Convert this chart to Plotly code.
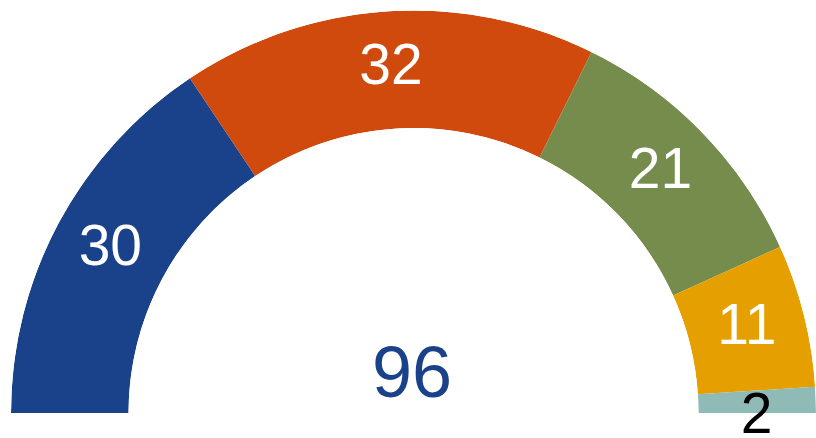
import plotly.graph_objects as go

parties = ["A", "B", "C", "D", "E"]
seats = [30, 32, 21, 11, 2]
colors = ["#1a428a", "#d04a0e", "#758c4c", "#e5a000", "#8fbab6"]
label_colors = ["white", "white", "white", "white", "black"]
total = sum(seats)

deg_per_seat = 180.0 / total
widths = [s * deg_per_seat for s in seats]
starts, centers = [], []
acc = 0.0
for w in widths:
    starts.append(acc)
    centers.append(acc + w / 2)
    acc += w

# the thin last slice gets its label hanging just below it
label_theta = centers[:-1] + [starts[-1]]
label_pos = ["middle center"] * (len(seats) - 1) + ["bottom center"]

FONT = "Liberation Sans, Arial, Helvetica, sans-serif"

fig = go.Figure()
fig.add_trace(go.Barpolar(
    r=[1] * len(seats), theta=centers, width=widths,
    marker=dict(color=colors, line=dict(width=0)),
    hoverinfo="skip", showlegend=False,
))
fig.add_trace(go.Scatterpolar(
    r=[0.5] * len(seats), theta=label_theta, mode="text",
    text=[str(s) for s in seats],
    textposition=label_pos,
    textfont=dict(family=FONT, size=57, color=label_colors),
    cliponaxis=False, hoverinfo="skip", showlegend=False,
))
fig.update_layout(
    width=816, height=438,
    margin=dict(l=0, r=0, t=0, b=0),
    paper_bgcolor="white", plot_bgcolor="white",
    polar=dict(
        domain=dict(x=[11 / 816, 1.0], y=[1 - 413 / 438, 1 - 10.5 / 438]),
        sector=[0, 180],
        hole=0.708,
        bgcolor="rgba(0,0,0,0)",
        radialaxis=dict(range=[0, 1], visible=False, showgrid=False),
        angularaxis=dict(direction="clockwise", rotation=180, visible=False,
                         showgrid=False, thetaunit="degrees"),
    ),
    annotations=[dict(
        text=str(total), x=412 / 816, xref="paper", y=1 - 372 / 438, yref="paper",
        xanchor="center", yanchor="middle",
        showarrow=False, font=dict(family=FONT, size=72, color="#1a428a"),
    )],
)
fig.write_html(
    "out.html",
    config={"displayModeBar": False},
    post_script="document.body.style.margin='0';document.body.style.overflow='hidden';",
)
